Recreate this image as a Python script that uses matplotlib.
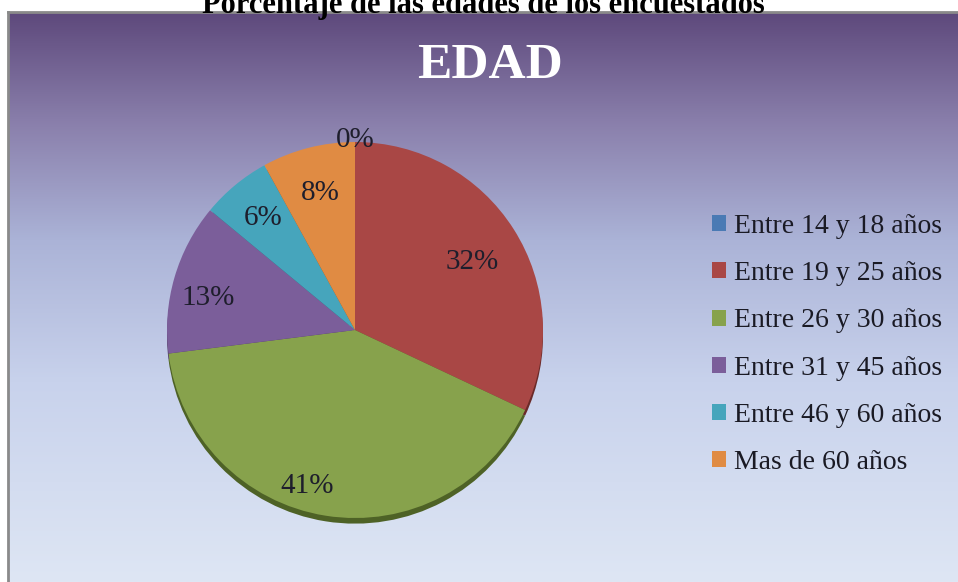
import numpy as np
import matplotlib.pyplot as plt
from matplotlib.colors import LinearSegmentedColormap

categorias = ['Entre 14 y 18 años', 'Entre 19 y 25 años', 'Entre 26 y 30 años',
              'Entre 31 y 45 años', 'Entre 46 y 60 años', 'Mas de 60 años']
porcentajes = [0, 32, 41, 13, 6, 8]
etiquetas = ['0%', '32%', '41%', '13%', '6%', '8%']

colores = ['#4a7ab4', '#a94745', '#87a24c', '#7b5e9a', '#46a5bc', '#e08b43']
sombras = ['#2c4a70', '#6a2a29', '#4e6226', '#4a375e', '#2a6472', '#8a5325']
# posicion de las etiquetas (radio y giro en grados)
dist_etq = [1.01, 0.72, 0.87, 0.80, 0.77, 0.75]
giro_etq = [0, -2, -8, 4, 0, 0]

W, H = 958, 582
fig = plt.figure(figsize=(W / 100, H / 100), dpi=100)
fig.patch.set_facecolor('white')

# fondo con degradado
bg = fig.add_axes([8 / W, 0, 950 / W, 570 / H])
grad = LinearSegmentedColormap.from_list(
    'fondo', [(0.0, '#dee6f4'), (0.35, '#c8d2ec'), (0.6, '#abb3d7'),
              (0.8, '#8b81ad'), (1.0, '#5e497c')])
bg.imshow(np.linspace(0, 1, 256).reshape(-1, 1), aspect='auto', cmap=grad,
          origin='lower', extent=[0, 1, 0, 1])
bg.set_xticks([])
bg.set_yticks([])
for s in ['right', 'bottom']:
    bg.spines[s].set_visible(False)
for s in ['left', 'top']:
    bg.spines[s].set_color('#8a8a8a')
    bg.spines[s].set_linewidth(2)

fig.text(483 / W, (H - 13) / H, 'Porcentaje de las edades de los encuestados',
         ha='center', va='baseline', fontsize=22, fontweight='bold',
         family='Liberation Serif', color='black')

fig.text(490 / W, (H - 78) / H, 'EDAD', ha='center', va='baseline',
         fontsize=37, fontweight='bold', family='Liberation Serif',
         color='white')

# tarta
ax = fig.add_axes([120 / W, 17 / H, 470 / W, 470 / H])
ax.set_aspect('equal')
ax.axis('off')

ax.pie(porcentajes, colors=sombras, startangle=90, counterclock=False,
       radius=1.0, center=(0.0, -0.03), wedgeprops=dict(linewidth=0))
wedges, _ = ax.pie(porcentajes, colors=colores, startangle=90,
                   counterclock=False, radius=1.0,
                   wedgeprops=dict(linewidth=0))
ax.set_xlim(-1.25, 1.25)
ax.set_ylim(-1.25, 1.25)

for w, txt, d, g in zip(wedges, etiquetas, dist_etq, giro_etq):
    ang = np.deg2rad((w.theta1 + w.theta2) / 2 + g)
    ax.text(d * np.cos(ang), d * np.sin(ang), txt, ha='center', va='center',
            fontsize=21, family='Liberation Serif', color='#1e1e2c')

leg = fig.legend(wedges, categorias, loc='upper left',
                 bbox_to_anchor=(687 / W, (H - 189) / H), frameon=False,
                 prop={'family': 'Liberation Serif', 'size': 20},
                 handlelength=0.5, handleheight=0.5, handletextpad=0.3,
                 labelspacing=0.8, labelcolor='#1a1a24')

fig.savefig('out.png', dpi=100)
